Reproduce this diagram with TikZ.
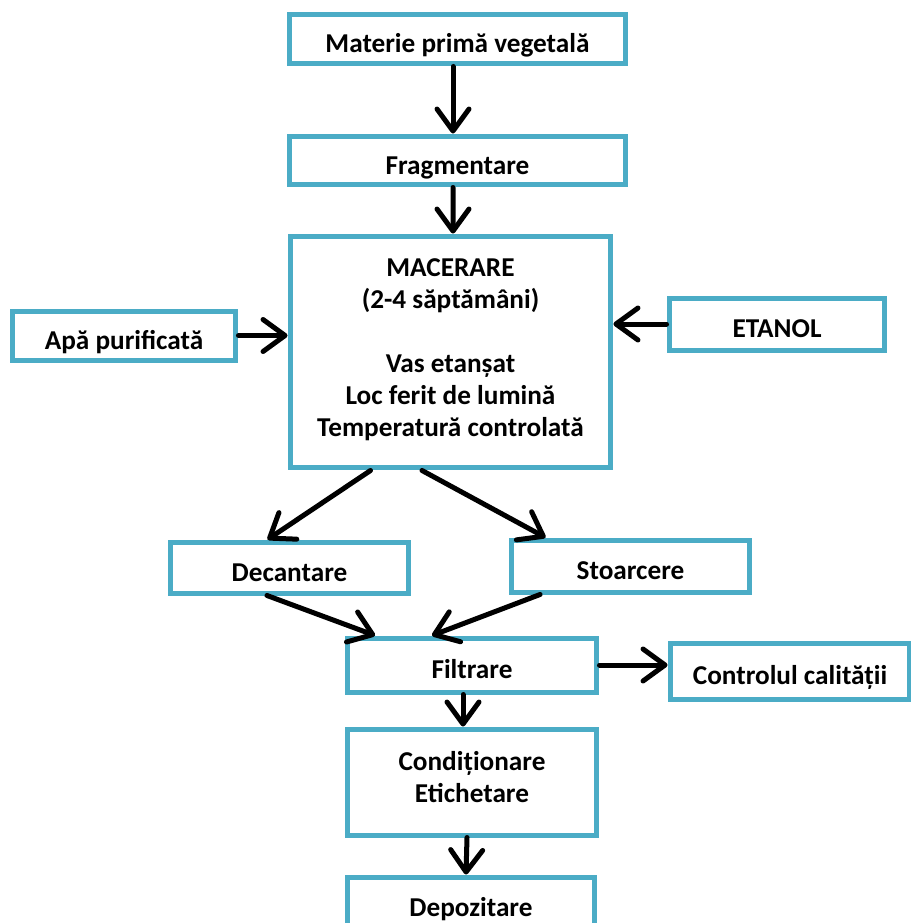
\documentclass[tikz,border=0pt]{standalone}
\usepackage{fontspec}
\setmainfont{Carlito}
\usepackage{tikz}
\usetikzlibrary{positioning}
\usetikzlibrary{arrows.meta}
\definecolor{albastru}{HTML}{4BACC6}
\tikzset{
    every picture/.style={>={Straight Barb[length=0.44cm,width=0.64cm,round]},x=0.02cm,y=-0.02cm},
    cutie/.style={draw=albastru,line width=0.1cm,fill=white,inner sep=0pt,
        font=\fontsize{15.5}{18.2}\selectfont\bfseries,text height=0.55cm,text depth=0cm},
    multi/.style={text height=,text depth=#1,align=center},
    sageata/.style={line width=0.1cm,line cap=round},
}
\begin{document}
\begin{tikzpicture}
\useasboundingbox (0,0) rectangle (910,923);

\node[cutie,minimum width=6.74cm,minimum height=1cm] (materie) at (457.5,39) {Materie primă vegetală};
\node[cutie,minimum width=6.74cm,minimum height=0.98cm] (fragmentare) at (457.5,160.5) {Fragmentare};
\node[cutie,multi=0.18cm,minimum width=6.42cm,minimum height=4.64cm] (macerare) at (450.5,352)
    {MACERARE\\(2-4 săptămâni)\\[18.2pt]Vas etanșat\\Loc ferit de lumină\\Temperatură controlată};
\node[cutie,minimum width=4.48cm,minimum height=0.98cm] (apa) at (124,335.5) {Apă purificată};
\node[cutie,minimum width=4.32cm,minimum height=1.04cm] (etanol) at (777,324) {ETANOL};
\node[cutie,minimum width=4.78cm,minimum height=1.02cm] (decantare) at (289.5,567.5) {Decantare};
\node[cutie,minimum width=4.78cm,minimum height=1.04cm] (stoarcere) at (630.5,566) {Stoarcere};
\node[cutie,minimum width=5cm,minimum height=1.08cm] (filtrare) at (472,665) {Filtrare};
\node[cutie,minimum width=4.8cm,minimum height=1.12cm] (control) at (790,671) {Controlul calității};
\node[cutie,multi=0.2cm,minimum width=5cm,minimum height=2.12cm] (conditionare) at (472,782) {Condiționare\\Etichetare};
\node[cutie,minimum width=4.96cm,minimum height=1.02cm] (depozitare) at (471,902.5) {Depozitare};

\path
([xshift=-0.09cm]materie.south) edge[sageata,->] ([xshift=-0.09cm]fragmentare.north)
([xshift=-0.09cm]fragmentare.south) edge[sageata,->] ([xshift=0.05cm]macerare.north)
(apa.east) edge[sageata,->] (apa.east -| macerare.west)
(etanol.west) edge[sageata,->] (etanol.west -| macerare.east)
([xshift=-1.6cm]macerare.south) edge[sageata,->] ([xshift=-0.44cm]decantare.north)
([xshift=-0.57cm]macerare.south) edge[sageata,->] ([xshift=-1.7cm]stoarcere.north)
([xshift=-0.45cm]decantare.south) edge[sageata,->] ([xshift=-1.94cm]filtrare.north)
([xshift=-1.81cm]stoarcere.south) edge[sageata,->] ([xshift=-0.8cm]filtrare.north)
(filtrare.east) edge[sageata,->] (filtrare.east -| control.west)
([xshift=-0.18cm]filtrare.south) edge[sageata,->] ([xshift=-0.18cm]conditionare.north)
([xshift=-0.1cm]conditionare.south) edge[sageata,->] ([xshift=-0.1cm]depozitare.north)
;

\end{tikzpicture}
\end{document}
